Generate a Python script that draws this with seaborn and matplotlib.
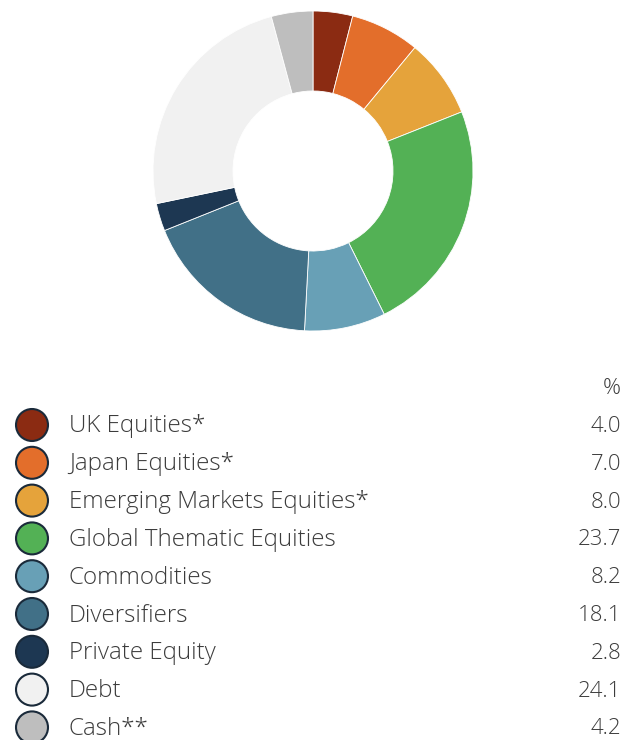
import pandas as pd
import seaborn as sns
import matplotlib.pyplot as plt

categories = ['UK Equities*', 'Japan Equities*', 'Emerging Markets Equities*',
              'Global Thematic Equities', 'Commodities', 'Diversifiers',
              'Private Equity', 'Debt', 'Cash**']
values = [4.0, 7.0, 8.0, 23.7, 8.2, 18.1, 2.8, 24.1, 4.2]
value_labels = ['4.0', '7.0', '8.0', '23.7', '8.2', '18.1', '2.8', '24.1', '4.2']
colors = ['#8B2B12', '#E36E2B', '#E5A33B', '#53B155', '#68A0B6',
          '#417087', '#1D3752', '#F1F1F1', '#BEBEBE']

sns.set_style('white')
plt.rcParams['font.family'] = ['Open Sans', 'DejaVu Sans']

W, H = 637, 740
fig = plt.figure(figsize=(W / 100, H / 100), dpi=100)

# donut
cx, cy, r = 313, 171, 160
ax = fig.add_axes([(cx - r) / W, (H - cy - r) / H, 2 * r / W, 2 * r / H])
ax.pie(values, colors=colors, startangle=90, counterclock=False,
       wedgeprops=dict(width=0.5, edgecolor='white', linewidth=0.6))
ax.set_xlim(-1, 1)
ax.set_ylim(-1, 1)
ax.set_aspect('equal')
ax.axis('off')

# legend table
lg = fig.add_axes([0, 0, 1, 1])
lg.patch.set_alpha(0)

df = pd.DataFrame({'cat': categories, 'val': value_labels})
df['y'] = [425 + 37.8 * i for i in range(len(df))]
df['x'] = 32
sns.scatterplot(data=df, x='x', y='y', hue='cat', palette=colors, s=530,
                edgecolor='#1A2A3A', linewidth=1.5, legend=False, ax=lg,
                clip_on=False)
lg.set_xlim(0, W)
lg.set_ylim(H, 0)
lg.axis('off')

txt = '#3C3C3C'
for _, row in df.iterrows():
    lg.text(69, row['y'] + 1.5, row['cat'], fontsize=17.4, color=txt,
            va='center', ha='left', fontweight='light')
    lg.text(621, row['y'] + 1.5, row['val'], fontsize=16, color=txt,
            va='center', ha='right', fontweight='light')
lg.text(621, 388, '%', fontsize=16, color=txt, va='center', ha='right',
        fontweight='light')

plt.savefig('out.png', dpi=100)
